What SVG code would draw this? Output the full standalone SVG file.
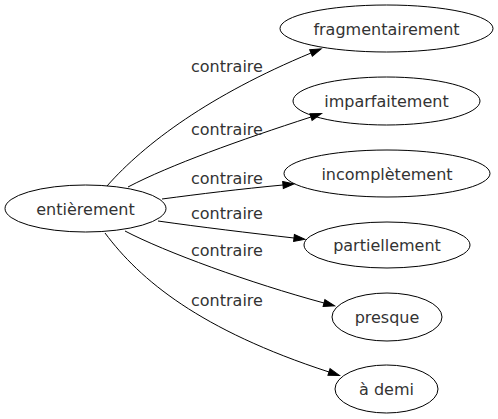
<svg xmlns="http://www.w3.org/2000/svg" width="498" height="419" viewBox="0 0 498 419">
<style>
.n ellipse{fill:none;stroke:#000;stroke-width:1}
text{font-family:"DejaVu Sans",sans-serif;font-size:16px;fill:#333;text-anchor:middle}
.e path{fill:none;stroke:#000;stroke-width:1}
.l text{text-anchor:start}
</style>
<defs>
<marker id="a" markerUnits="userSpaceOnUse" markerWidth="12" markerHeight="9" refX="0" refY="3.5" orient="auto" overflow="visible">
<path d="M0,0 L11,3.5 L0,7 z" fill="#000" stroke="#000" stroke-width="1"/>
</marker>
</defs>
<rect width="498" height="419" fill="#fff"/>
<g id="edges" class="e">
<path d="M107,186 C145,143 210,95 311,53" marker-end="url(#a)"/>
<path d="M128,187 C170,165 240,140 311,117" marker-end="url(#a)"/>
<path d="M162,199 C200,194 240,189 283,185" marker-end="url(#a)"/>
<path d="M158,221 C200,227 250,233 294,238" marker-end="url(#a)"/>
<path d="M125,231 C165,252 250,283 324,303" marker-end="url(#a)"/>
<path d="M105,233 C140,280 200,330 329,372" marker-end="url(#a)"/>
</g>
<g id="labels" class="l">
<text x="191" y="72">contraire</text>
<text x="191" y="135">contraire</text>
<text x="191" y="184">contraire</text>
<text x="191" y="219">contraire</text>
<text x="191" y="256">contraire</text>
<text x="191" y="306">contraire</text>
</g>
<g id="n0" class="n"><ellipse cx="85.5" cy="208.5" rx="80.5" ry="23.5"/><text x="85.5" y="214.5">entièrement</text></g>
<g id="n1" class="n"><ellipse cx="386.5" cy="28.5" rx="106.5" ry="23.5"/><text x="386.5" y="34.5">fragmentairement</text></g>
<g id="n2" class="n"><ellipse cx="386.5" cy="101" rx="93.5" ry="24"/><text x="386.5" y="107">imparfaitement</text></g>
<g id="n3" class="n"><ellipse cx="387" cy="173.5" rx="103" ry="23.5"/><text x="387" y="179.5">incomplètement</text></g>
<g id="n4" class="n"><ellipse cx="387" cy="245" rx="83" ry="23"/><text x="387" y="251">partiellement</text></g>
<g id="n5" class="n"><ellipse cx="387" cy="317" rx="55" ry="24"/><text x="387" y="323">presque</text></g>
<g id="n6" class="n"><ellipse cx="386.5" cy="389" rx="51.5" ry="24"/><text x="386.5" y="395">à demi</text></g>
</svg>
